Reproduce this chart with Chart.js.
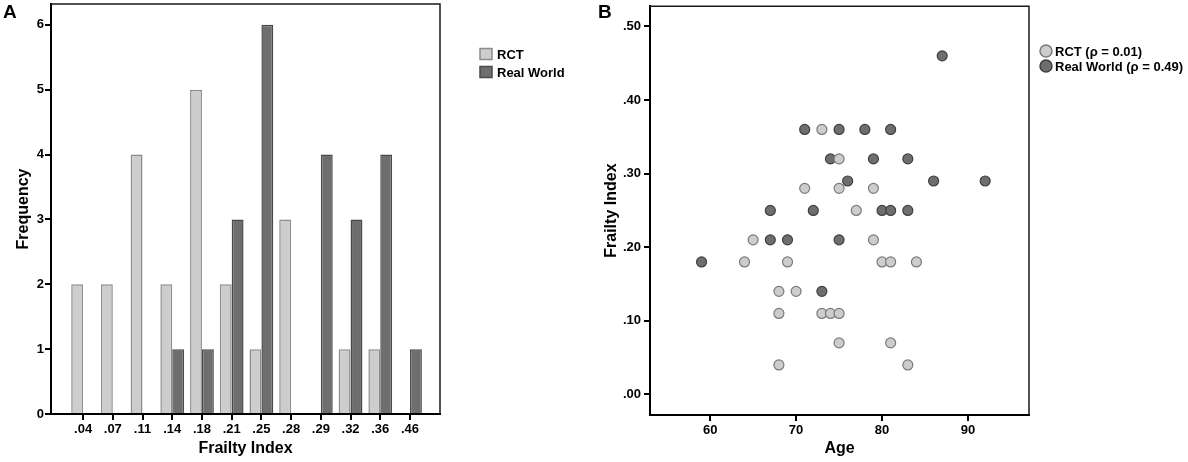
<!DOCTYPE html>
<html>
<head>
<meta charset="utf-8">
<script src="https://cdn.jsdelivr.net/npm/chart.js@4.4.1/dist/chart.umd.min.js"></script>
<style>
  body { margin: 0; background: #fff; }
  #wrap { position: relative; width: 1188px; height: 462px; }
  .panel { position: absolute; top: 0; height: 462px; }
  #panelA { left: 0; width: 600px; }
  #panelB { left: 590px; width: 598px; }
</style>
</head>
<body>
<div id="wrap">
  <div class="panel" id="panelA"><canvas id="histo"></canvas></div>
  <div class="panel" id="panelB"><canvas id="scatter"></canvas></div>
</div>
<script>
// panel A: frequency of frailty index values
const frailtyBins = ['.04', '.07', '.11', '.14', '.18', '.21', '.25', '.28', '.29', '.32', '.36', '.46']
const rctCounts = [2, 2, 4, 2, 5, 2, 1, 3, 0, 1, 1, 0]
const realCounts = [0, 0, 0, 1, 1, 3, 6, 0, 4, 3, 4, 1]

// panel B: age vs frailty index
const rctAge = [73, 75, 71, 75, 79, 77, 65, 79, 64, 69, 80, 81, 84, 68, 70, 68, 73, 74, 75, 75, 81, 68, 83]
const rctFrailty = [.36, .32, .28, .28, .28, .25, .21, .21, .18, .18, .18, .18, .18, .14, .14, .11, .11, .11, .11, .07, .07, .04, .04]
const realAge = [71, 75, 78, 81, 74, 79, 83, 76, 86, 92, 87, 67, 72, 80, 81, 83, 67, 69, 75, 59, 73]
const realFrailty = [.36, .36, .36, .36, .32, .32, .32, .29, .29, .29, .46, .25, .25, .25, .25, .25, .21, .21, .21, .18, .14]

const LIGHT = '#cdcdcd', LIGHT_EDGE = '#8c8c8c'
const DARK = '#6e6e6e', DARK_EDGE = '#4a4a4a'

Chart.defaults.font.family = '"Liberation Sans", Arial, sans-serif'
Chart.defaults.font.weight = 'bold'
Chart.defaults.font.size = 13
Chart.defaults.color = '#000'
Chart.defaults.animation = false

// draws the top/right frame, the panel letter and the legend
const framePlugin = {
    id: 'frame',
    afterDraw(chart, args, opts) {
        const ctx = chart.ctx
        const a = chart.chartArea
        ctx.save()
        ctx.strokeStyle = '#1a1a1a'
        ctx.lineWidth = 1.5
        ctx.beginPath()
        ctx.moveTo(a.left, a.top)
        ctx.lineTo(a.right, a.top)
        ctx.lineTo(a.right, a.bottom)
        ctx.stroke()

        ctx.fillStyle = '#000'
        ctx.font = 'bold 19px "Liberation Sans", Arial, sans-serif'
        ctx.textBaseline = 'top'
        ctx.textAlign = 'left'
        ctx.fillText(opts.letter, opts.letterX, 3)

        ctx.font = opts.legendFont
        ctx.textBaseline = 'middle'
        chart.data.datasets.forEach(function(ds, i){
            const y = opts.legendY + i * opts.legendStep
            ctx.fillStyle = ds.backgroundColor
            ctx.strokeStyle = ds.borderColor
            ctx.lineWidth = 1.5
            if (opts.round) {
                ctx.beginPath()
                ctx.arc(opts.legendX + 6, y, 6, 0, Math.PI * 2)
                ctx.fill()
                ctx.stroke()
            } else {
                ctx.fillRect(opts.legendX, y - 5.5, 12, 11)
                ctx.strokeRect(opts.legendX, y - 5.5, 12, 11)
            }
            ctx.fillStyle = '#000'
            ctx.fillText(ds.label, opts.legendX + opts.textGap, y + 1)
        })
        ctx.restore()
    }
}

function axisGrid(){
    return { display: true, drawOnChartArea: false, drawTicks: true, tickLength: 6, color: '#000', lineWidth: 2, offset: false }
}

// keep the frame edges where they are, without room reserved for half tick labels
function noEdgePadding(scale){
    scale.paddingTop = 0
    scale.paddingBottom = 0
    scale.paddingLeft = 0
    scale.paddingRight = 0
}

new Chart(document.getElementById('histo'), {
    type: 'bar',
    data: {
        datasets: [
            {
                label: 'RCT',
                data: rctCounts.map(function(v, i){ return { x: i, y: v } }),
                backgroundColor: LIGHT,
                borderColor: LIGHT_EDGE,
                borderWidth: 1.5,
            },
            {
                label: 'Real World',
                data: realCounts.map(function(v, i){ return { x: i, y: v } }),
                backgroundColor: DARK,
                borderColor: DARK_EDGE,
                borderWidth: 1.5,
            }
        ]
    },
    options: {
        responsive: true,
        maintainAspectRatio: false,
        layout: { padding: { left: 0, top: 4, right: 160, bottom: 0 } },
        datasets: { bar: { barPercentage: 1.0, categoryPercentage: 0.8 } },
        plugins: {
            legend: { display: false },
            tooltip: { enabled: false },
            frame: { letter: 'A', letterX: 3, legendX: 480, legendY: 54, legendStep: 18, textGap: 17, round: false,
                     legendFont: 'bold 13px "Liberation Sans", Arial, sans-serif' }
        },
        scales: {
            x: {
                type: 'linear',
                offset: false,
                min: -1.08,
                max: 12.01,
                afterBuildTicks: function(scale){
                    scale.ticks = frailtyBins.map(function(l, i){ return { value: i } })
                },
                afterFit: function(scale){ scale.height = 48; noEdgePadding(scale) },
                grid: axisGrid(),
                border: { display: true, color: '#000', width: 2 },
                ticks: {
                    autoSkip: false,
                    maxRotation: 0,
                    padding: 2,
                    callback: function(v){ return frailtyBins[v] }
                },
                title: { display: true, text: 'Frailty Index', font: { size: 16 }, padding: { top: 0, bottom: 4 } }
            },
            y: {
                min: 0,
                max: 6.32,
                afterFit: function(scale){ scale.width = 51; noEdgePadding(scale) },
                grid: axisGrid(),
                border: { display: true, color: '#000', width: 2 },
                ticks: { stepSize: 1, includeBounds: false, padding: 1 },
                title: { display: true, text: 'Frequency', font: { size: 16 }, padding: { top: 14, bottom: 0 } }
            }
        }
    },
    plugins: [framePlugin]
})

function toPoints(xs, ys){
    return xs.map(function(x, i){ return { x: x, y: ys[i] } })
}

new Chart(document.getElementById('scatter'), {
    type: 'scatter',
    data: {
        datasets: [
            {
                label: 'RCT (\u03c1 = 0.01)',
                data: toPoints(rctAge, rctFrailty),
                backgroundColor: LIGHT,
                borderColor: '#7a7a7a',
                borderWidth: 1.2,
                pointRadius: 5,
            },
            {
                label: 'Real World (\u03c1 = 0.49)',
                data: toPoints(realAge, realFrailty),
                backgroundColor: DARK,
                borderColor: '#404040',
                borderWidth: 1.2,
                pointRadius: 5,
            }
        ]
    },
    options: {
        responsive: true,
        maintainAspectRatio: false,
        layout: { padding: { left: 0, top: 4, right: 159, bottom: 0 } },
        plugins: {
            legend: { display: false },
            tooltip: { enabled: false },
            frame: { letter: 'B', letterX: 8, legendX: 450, legendY: 51, legendStep: 15, textGap: 15, round: true,
                     legendFont: 'bold 13px "Liberation Sans", Arial, sans-serif' }
        },
        scales: {
            x: {
                type: 'linear',
                min: 53,
                max: 97.1,
                afterFit: function(scale){ scale.height = 47; noEdgePadding(scale) },
                grid: axisGrid(),
                border: { display: true, color: '#000', width: 2 },
                ticks: { stepSize: 10, includeBounds: false, padding: 2 },
                title: { display: true, text: 'Age', font: { size: 16 }, padding: { top: 0, bottom: 4 } }
            },
            y: {
                min: -0.028,
                max: 0.5275,
                afterFit: function(scale){ scale.width = 60; noEdgePadding(scale) },
                grid: axisGrid(),
                border: { display: true, color: '#000', width: 2 },
                ticks: {
                    stepSize: 0.1,
                    includeBounds: false,
                    padding: 3,
                    callback: function(v){ return Math.abs(v).toFixed(2).replace(/^0/, '') }
                },
                title: { display: true, text: 'Frailty Index', font: { size: 16 }, padding: { top: 12, bottom: 0 } }
            }
        }
    },
    plugins: [framePlugin]
})
</script>
</body>
</html>
